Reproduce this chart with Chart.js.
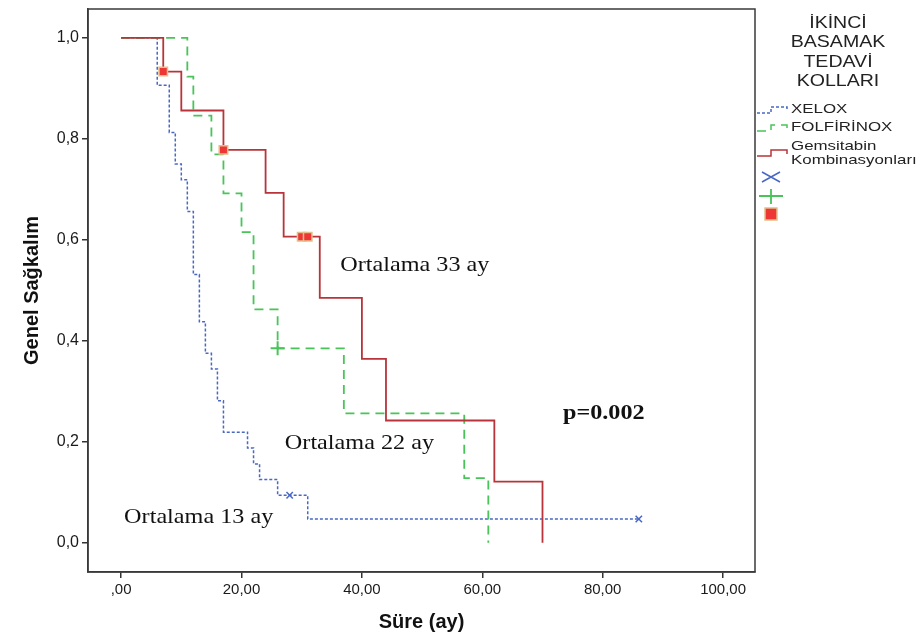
<!DOCTYPE html>
<html>
<head>
<meta charset="utf-8">
<script src="https://cdn.jsdelivr.net/npm/chart.js@4.4.0/dist/chart.umd.min.js"></script>
<style>
  html, body { margin: 0; padding: 0; background: #fff; }
  #wrap { width: 922px; height: 637px; }
</style>
</head>
<body>
<div id="wrap"><canvas id="kmChart" width="922" height="637"></canvas></div>
<script>
// Kaplan-Meier: time (ay) and survival after each event
const xeloxTime = [0, 6, 8, 9, 10, 11, 12, 13, 14, 15, 16, 17, 21, 22, 23, 26, 31, 86];
const xeloxSurv = [1, 0.906, 0.8125, 0.75, 0.719, 0.656, 0.531, 0.4375, 0.375, 0.344, 0.281, 0.219, 0.1875, 0.156, 0.125, 0.094, 0.047, 0.047];
const folfTime = [0, 11, 12, 15, 17, 20, 22, 26, 37, 57, 61];
const folfSurv = [1, 0.923, 0.846, 0.769, 0.692, 0.615, 0.462, 0.385, 0.256, 0.128, 0];
const gemTime = [0, 7, 10, 17, 24, 27, 33, 40, 44, 62, 70];
const gemSurv = [1, 0.933, 0.856, 0.778, 0.693, 0.606, 0.485, 0.364, 0.242, 0.121, 0];

// censored cases
const xeloxCensTime = [28, 86];
const xeloxCensSurv = [0.094, 0.047];
const folfCensTime = [26];
const folfCensSurv = [0.385];
const gemCensTime = [7, 17, 30, 31];
const gemCensSurv = [0.933, 0.778, 0.606, 0.606];

const xTicks = [0, 20, 40, 60, 80, 100];
const xTickLabels = [',00', '20,00', '40,00', '60,00', '80,00', '100,00'];
const yTicks = [0, 0.2, 0.4, 0.6, 0.8, 1.0];
const yTickLabels = ['0,0', '0,2', '0,4', '0,6', '0,8', '1,0'];

const legendTitle = ['İKİNCİ', 'BASAMAK', 'TEDAVİ', 'KOLLARI'];
const groupNames = ['XELOX', 'FOLFİRİNOX', ['Gemsitabin', 'Kombinasyonları']];

const noteTexts = ['Ortalama 33 ay', 'Ortalama 22 ay', 'Ortalama 13 ay', 'p=0.002'];
const noteX = [36.4, 27.2, 0.5, 73.4];
const noteY = [0.549, 0.198, 0.051, 0.257];

const blue = 'rgb(72, 104, 196)';
const green = 'rgb(72, 196, 88)';
const red = 'rgb(184, 52, 58)';
const redFill = 'rgb(238, 54, 52)';
const redEdge = 'rgb(226, 192, 140)';
const sans = '"Liberation Sans", Arial, sans-serif';

const pts = (xs, ys) => xs.map((v, i) => ({x: v, y: ys[i]}));

const data = {
  datasets: [
    { type: 'scatter', data: pts(gemCensTime, gemCensSurv), pointStyle: 'rect', pointRadius: 6,
      backgroundColor: redFill, borderColor: redEdge, borderWidth: 1.5 },
    { type: 'scatter', data: pts(folfCensTime, folfCensSurv), pointStyle: 'cross', pointRadius: 7,
      borderColor: green, borderWidth: 2 },
    { type: 'scatter', data: pts(xeloxCensTime, xeloxCensSurv), pointStyle: 'crossRot', pointRadius: 4.5,
      borderColor: blue, borderWidth: 1.5 },
    { label: 'Gemsitabin Kombinasyonları', data: pts(gemTime, gemSurv), stepped: 'before',
      borderColor: red, borderWidth: 1.8, pointRadius: 0, fill: false },
    { label: 'FOLFİRİNOX', data: pts(folfTime, folfSurv), stepped: 'before',
      borderColor: green, borderWidth: 1.8, borderDash: [9, 6], pointRadius: 0, fill: false },
    { label: 'XELOX', data: pts(xeloxTime, xeloxSurv), stepped: 'before',
      borderColor: blue, borderWidth: 1.5, borderDash: [3, 2], pointRadius: 0, fill: false }
  ]
};

// text drawn a bit wider than the font, like the original export
function wideText(ctx, text, x, y, sx, align) {
  const w = ctx.measureText(text).width * sx;
  let x0 = x;
  if (align === 'center') x0 = x - w / 2;
  if (align === 'right') x0 = x - w;
  ctx.save();
  ctx.translate(x0, y);
  ctx.scale(sx, 1);
  ctx.textAlign = 'left';
  ctx.fillText(text, 0, 0);
  ctx.restore();
}

const overlay = {
  id: 'overlay',
  afterDatasetsDraw(chart) {
    const {ctx, chartArea: a, scales: {x, y}} = chart;
    ctx.save();
    ctx.strokeStyle = '#3a3a3a';
    ctx.lineWidth = 1.5;
    ctx.setLineDash([]);
    ctx.strokeRect(a.left, a.top, a.right - a.left, a.bottom - a.top);

    // notes in the plot
    ctx.fillStyle = '#111';
    ctx.textBaseline = 'middle';
    noteTexts.forEach((t, i) => {
      const bold = t.startsWith('p=');
      ctx.font = (bold ? 'bold 22px' : '22px') + ' "Liberation Serif", serif';
      wideText(ctx, t, x.getPixelForValue(noteX[i]), y.getPixelForValue(noteY[i]), 1.1, 'left');
    });

    // legend on the right
    const cx = 838;
    ctx.font = '17px ' + sans;
    ctx.fillStyle = '#222';
    legendTitle.forEach((t, i) => wideText(ctx, t, cx, 23 + i * 19.5, 1.15, 'center'));

    const lx = a.right + 2;
    const lineRows = [
      {c: blue, dash: [3, 2], y: 110},
      {c: green, dash: [9, 6], y: 128},
      {c: red, dash: [], y: 153}
    ];
    ctx.font = '13.5px ' + sans;
    lineRows.forEach((r, i) => {
      ctx.strokeStyle = r.c;
      ctx.lineWidth = 1.5;
      ctx.setLineDash(r.dash);
      ctx.beginPath();
      ctx.moveTo(lx, r.y + 3);
      ctx.lineTo(lx + 14, r.y + 3);
      ctx.lineTo(lx + 14, r.y - 3);
      ctx.lineTo(lx + 30, r.y - 3);
      ctx.lineTo(lx + 30, r.y + 1);
      ctx.stroke();
      ctx.setLineDash([]);
      ctx.fillStyle = '#222';
      const name = groupNames[i];
      if (Array.isArray(name)) {
        wideText(ctx, name[0], lx + 34, r.y - 7, 1.25, 'left');
        wideText(ctx, name[1], lx + 34, r.y + 7, 1.25, 'left');
      } else {
        wideText(ctx, name, lx + 34, r.y - 1, 1.25, 'left');
      }
    });
    // censor symbols
    const mx = lx + 14;
    ctx.strokeStyle = blue;
    ctx.lineWidth = 1.5;
    ctx.beginPath();
    ctx.moveTo(mx - 9, 172); ctx.lineTo(mx + 9, 182);
    ctx.moveTo(mx - 9, 182); ctx.lineTo(mx + 9, 172);
    ctx.stroke();
    ctx.strokeStyle = green;
    ctx.lineWidth = 1.8;
    ctx.beginPath();
    ctx.moveTo(mx - 12, 196); ctx.lineTo(mx + 12, 196);
    ctx.moveTo(mx, 189); ctx.lineTo(mx, 204);
    ctx.stroke();
    ctx.fillStyle = redFill;
    ctx.strokeStyle = redEdge;
    ctx.lineWidth = 1.5;
    ctx.fillRect(mx - 6, 208, 12, 12);
    ctx.strokeRect(mx - 6, 208, 12, 12);
    ctx.restore();
  }
};

const config = {
  type: 'line',
  data: data,
  options: {
    responsive: false,
    animation: false,
    layout: {
      padding: {top: 8, right: 167, left: 0, bottom: 0}
    },
    plugins: {
      legend: {display: false},
      tooltip: {enabled: false}
    },
    scales: {
      x: {
        type: 'linear',
        min: -5.5,
        max: 105.3,
        afterBuildTicks: s => { s.ticks = xTicks.map(v => ({value: v})); },
        afterFit: s => { s.height = 65; s.paddingLeft = 0; s.paddingRight = 0; },
        ticks: {
          callback: v => xTickLabels[xTicks.indexOf(v)],
          color: '#1a1a1a',
          font: {family: sans, size: 15},
          padding: 3,
          maxRotation: 0
        },
        grid: {drawOnChartArea: false, drawTicks: true, tickLength: 6, color: '#333', lineWidth: 1.5},
        border: {display: true, color: '#3a3a3a', width: 1.5},
        title: {
          display: true,
          text: 'Süre (ay)',
          color: '#111',
          font: {family: sans, size: 20, weight: 'bold'},
          padding: {top: 0, bottom: 3}
        }
      },
      y: {
        type: 'linear',
        min: -0.058,
        max: 1.057,
        afterBuildTicks: s => { s.ticks = yTicks.map(v => ({value: v})); },
        afterFit: s => { s.width = 88; s.paddingTop = 0; s.paddingBottom = 0; },
        ticks: {
          callback: v => yTickLabels[yTicks.indexOf(v)],
          color: '#1a1a1a',
          font: {family: sans, size: 16},
          padding: 3
        },
        grid: {drawOnChartArea: false, drawTicks: true, tickLength: 6, color: '#333', lineWidth: 1.5},
        border: {display: true, color: '#3a3a3a', width: 1.5},
        title: {
          display: true,
          text: 'Genel Sağkalım',
          color: '#111',
          font: {family: sans, size: 20, weight: 'bold'},
          padding: {top: 20, bottom: 0}
        }
      }
    }
  },
  plugins: [overlay]
};

const kmChart = new Chart(document.getElementById('kmChart'), config);
</script>
</body>
</html>
